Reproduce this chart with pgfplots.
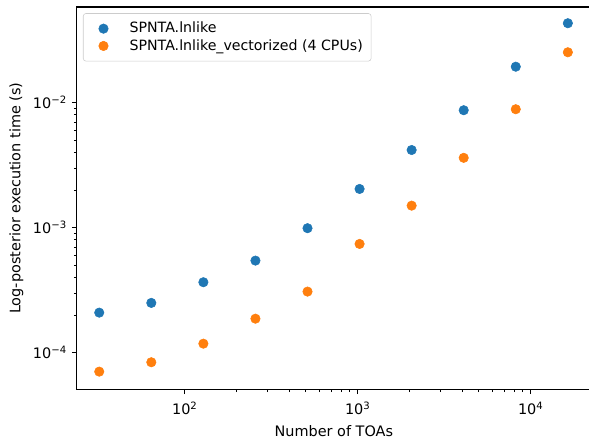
\documentclass[border=0pt]{standalone}
\usepackage{fontspec}
\setmainfont{DejaVu Sans}
\usepackage{pgfplots}
\pgfplotsset{compat=1.18}
\definecolor{C0}{HTML}{1F77B4}
\definecolor{C1}{HTML}{FF7F0E}
\begin{document}
\begin{tikzpicture}
\begin{axis}[
  at={(0,0)}, anchor=south west,
  scale only axis, width=370.3pt, height=275.3pt,
  xmode=log, ymode=log,
  xmin=23.7, xmax=22300, ymin=5.09e-5, ymax=0.0583,
  axis line style={line width=0.8pt},
  tick align=outside, tick pos=left,
  major tick length=3.5pt, minor tick length=2pt,
  every tick/.style={black, line width=0.8pt},
  minor tick style={line width=0.6pt},
  xtick={100,1000,10000},
  xticklabels={10\textsuperscript{2},10\textsuperscript{3},10\textsuperscript{4}},
  ytick={1e-4,1e-3,1e-2},
  yticklabels={10\textsuperscript{−4},10\textsuperscript{−3},10\textsuperscript{−2}},
  ticklabel style={font=\fontsize{10.4}{12}\selectfont},
  xticklabel style={yshift=-2pt},
  label style={font=\fontsize{10.4}{12}\selectfont},
  xlabel={Number of TOAs},
  xlabel style={at={(axis description cs:0.5,0)}, anchor=north, yshift=-22.4pt},
  ylabel={Log-posterior execution time (s)},
  legend style={at={(0,1)}, anchor=north west, xshift=4.5pt, yshift=-4.5pt,
    draw=black!20, rounded corners=2pt, fill=white,
    font=\fontsize{10.2}{12}\selectfont, inner xsep=4pt, inner ysep=4.3pt, row sep=-0.8pt},
  legend cell align=left,
  legend image code/.code={\fill[opacity=0] (0pt,-1pt) rectangle (27pt,1pt); \draw[#1] plot coordinates {(10.4pt,0pt)};},
]
\addplot[only marks, mark=*, mark size=3.4pt, color=C0] coordinates {
(32,2.09e-4) (64,2.50e-4) (128,3.66e-4) (256,5.45e-4) (512,9.9e-4)
(1024,2.04e-3) (2048,4.18e-3) (4096,8.7e-3) (8192,1.94e-2) (16384,4.32e-2)};
\addlegendentry{SPNTA.lnlike}
\addplot[only marks, mark=*, mark size=3.4pt, color=C1] coordinates {
(32,7.05e-5) (64,8.38e-5) (128,1.18e-4) (256,1.87e-4) (512,3.08e-4)
(1024,7.41e-4) (2048,1.50e-3) (4096,3.62e-3) (8192,8.86e-3) (16384,2.53e-2)};
\addlegendentry{SPNTA.lnlike\_vectorized (4 CPUs)}
\end{axis}
\pgfresetboundingbox
\useasboundingbox (-55.22pt,-35.78pt) rectangle (368.86pt,280.3pt);
\end{tikzpicture}
\end{document}
